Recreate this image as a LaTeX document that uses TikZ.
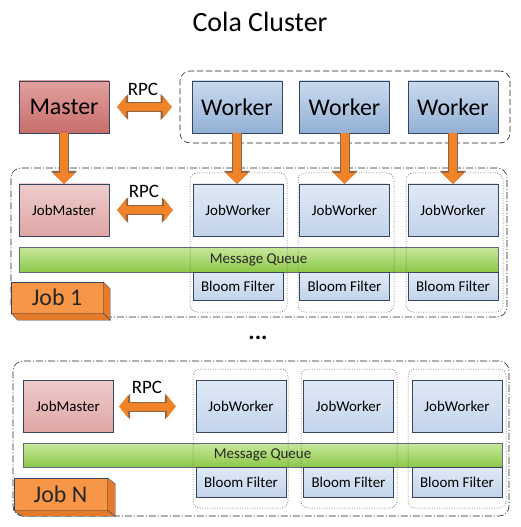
\documentclass[tikz,border=0pt]{standalone}
\usepackage{fontspec}
\setmainfont{Carlito}
\usetikzlibrary{arrows.meta, calc, positioning}
\definecolor{masterTop}{RGB}{226,160,158}
\definecolor{masterBot}{RGB}{200,110,107}
\definecolor{workerTop}{RGB}{202,218,238}
\definecolor{workerBot}{RGB}{146,176,213}
\definecolor{jmTop}{RGB}{238,204,203}
\definecolor{jmBot}{RGB}{222,166,165}
\definecolor{jwTop}{RGB}{224,234,246}
\definecolor{jwBot}{RGB}{194,211,234}
\definecolor{mqTop}{RGB}{200,232,156}
\definecolor{mqBot}{RGB}{140,200,72}
\definecolor{jobOrange}{RGB}{247,150,70}
\definecolor{jobSide}{RGB}{228,122,42}
\definecolor{arrowFill}{RGB}{240,130,40}
\definecolor{arrowEdge}{RGB}{140,100,70}
\definecolor{boxLine}{RGB}{55,70,95}
\tikzset{
every node/.style={inner sep=1pt}, % tight nodes
big/.style={font=\fontsize{24}{28}\selectfont},
small/.style={font=\fontsize{15}{18}\selectfont},
rpctext/.style={font=\fontsize{19}{22}\selectfont},
master/.style={draw=boxLine, top color=masterTop, bottom color=masterBot, minimum width=90bp, minimum height=52bp, big},
worker/.style={draw=boxLine, top color=workerTop, bottom color=workerBot, minimum width=90bp, minimum height=52bp, big},
jobmaster/.style={draw=boxLine, top color=jmTop, bottom color=jmBot, minimum width=90bp, minimum height=52bp, small},
jobworker/.style={draw=boxLine, top color=jwTop, bottom color=jwBot, minimum width=90bp, minimum height=52bp, small},
bloom/.style={draw=boxLine, top color=jwTop, bottom color=jwBot, minimum width=90bp, minimum height=28bp, small},
queue/.style={draw=boxLine!80, top color=mqTop, bottom color=mqBot, minimum width=479bp, minimum height=25bp, small, text=black!85},
jobtag/.style={draw=boxLine, fill=jobOrange, minimum width=92bp, minimum height=31bp, big, text=black!85},
jobside/.style={draw=boxLine, fill=jobSide},
group/.style={draw=black!85, line width=0.6bp, dash pattern=on 6bp off 3bp, rounded corners=10bp},
jobbox/.style={draw=black!85, line width=0.6bp, dash pattern=on 7bp off 2bp on 1bp off 2bp, rounded corners=10bp},
slot/.style={draw=black!65, line width=0.5bp, dash pattern=on 1bp off 1.5bp, rounded corners=7bp},
flow/.style={line width=8bp, draw=arrowFill, -{Triangle[length=11bp,width=23bp,line width=0pt]},
  preaction={draw=arrowEdge, line width=10bp, -{Triangle[length=13bp,width=26bp,line width=0pt]}}},
rpc/.style={line width=8bp, draw=arrowFill, {Triangle[length=9bp,width=23bp,line width=0pt]}-{Triangle[length=9bp,width=23bp,line width=0pt]},
  preaction={draw=arrowEdge, line width=10bp, {Triangle[length=11bp,width=26bp,line width=0pt]}-{Triangle[length=11bp,width=26bp,line width=0pt]}}},
}
\begin{document}
\begin{tikzpicture}[x=1bp, y=-1bp]
  \useasboundingbox (0,0) rectangle (521,527);
  \node[font=\fontsize{28}{32}\selectfont] (title) at (260,22) {Cola Cluster};
  % cluster level
  \node[master] (m) at (64,107) {Master};
  \node[group, minimum width=330bp, minimum height=72bp] (ws) at (345,107) {};
  \node[worker] (w1) at (237,107) {Worker};
  \node[worker] (w2) at (344.5,107) {Worker};
  \node[worker] (w3) at (453,107) {Worker};
  \node[rpctext] (r0) at (143,89) {RPC};
  % job 1
  \node[jobbox, minimum width=496bp, minimum height=149bp] (j1) at (259,242.5) {};
  \node[jobmaster] (jm1) at (64,210) {JobMaster};
  \node[jobworker] (jw11) at (238,210) {JobWorker};
  \node[jobworker] (jw12) at (344.5,210) {JobWorker};
  \node[jobworker] (jw13) at (453,210) {JobWorker};
  \node[queue] (mq1) at (258.5,259.5) {Message Queue};
  \node[bloom] (bf11) at (238,286) {Bloom Filter};
  \node[bloom] (bf12) at (344.5,286) {Bloom Filter};
  \node[bloom] (bf13) at (453,286) {Bloom Filter};
  \node[slot, minimum width=97bp, minimum height=139bp] (s11) at (238.5,242.5) {};
  \node[slot, minimum width=96bp, minimum height=139bp] (s12) at (346,242.5) {};
  \node[slot, minimum width=97bp, minimum height=139bp] (s13) at (454.5,242.5) {};
  \node[jobtag] (t1) at (57,297.5) {Job 1};
  \fill[jobside] (t1.north east) -- ([shift={(7,7)}]t1.north east) -- ([shift={(7,7)}]t1.south east) -- (t1.south east) -- cycle;
  \fill[jobside] (t1.south west) -- ([shift={(7,7)}]t1.south west) -- ([shift={(7,7)}]t1.south east) -- (t1.south east) -- cycle;
  \node[rpctext] (r1) at (144,191) {RPC};
  \node[big] (dots) at (258,338) {\textbf{...}};
  % job N
  \node[jobbox, minimum width=496bp, minimum height=155bp] (jn) at (261,438.5) {};
  \node[jobmaster] (jmn) at (68,406.5) {JobMaster};
  \node[jobworker] (jwn1) at (241,406.5) {JobWorker};
  \node[jobworker] (jwn2) at (348.5,406.5) {JobWorker};
  \node[jobworker] (jwn3) at (457,406.5) {JobWorker};
  \node[queue, minimum height=24bp] (mqn) at (262.5,455) {Message Queue};
  \node[bloom, minimum height=30bp] (bfn1) at (241,482) {Bloom Filter};
  \node[bloom, minimum height=30bp] (bfn2) at (348.5,482) {Bloom Filter};
  \node[bloom, minimum height=30bp] (bfn3) at (457,482) {Bloom Filter};
  \node[slot, minimum width=95bp, minimum height=139bp] (sn1) at (240.5,438.5) {};
  \node[slot, minimum width=96bp, minimum height=139bp] (sn2) at (349,438.5) {};
  \node[slot, minimum width=98bp, minimum height=139bp] (sn3) at (457,438.5) {};
  \node[jobtag, minimum width=93bp, minimum height=32bp] (tn) at (60.5,494) {Job N};
  \fill[jobside] (tn.north east) -- ([shift={(8,6)}]tn.north east) -- ([shift={(8,6)}]tn.south east) -- (tn.south east) -- cycle;
  \fill[jobside] (tn.south west) -- ([shift={(8,6)}]tn.south west) -- ([shift={(8,6)}]tn.south east) -- (tn.south east) -- cycle;
  \node[rpctext] (rn) at (147,387) {RPC};
  % arrows
  \draw[rpc, shorten <=8bp, shorten >=8bp] (m.east) -- (m.east -| ws.west);
  \draw[rpc, shorten <=8bp, shorten >=17bp] (jm1.east) -- (jm1.east -| s11.west);
  \draw[rpc, shorten <=6bp, shorten >=17bp] (jmn.east) -- (jmn.east -| sn1.west);
  \draw[flow] (m.south) -- (m.south |- jm1.north);
  \draw[flow] (w1.south) -- (w1.south |- jw11.north);
  \draw[flow] (w2.south) -- (w2.south |- jw12.north);
  \draw[flow] (w3.south) -- (w3.south |- jw13.north);
\end{tikzpicture}
\end{document}
